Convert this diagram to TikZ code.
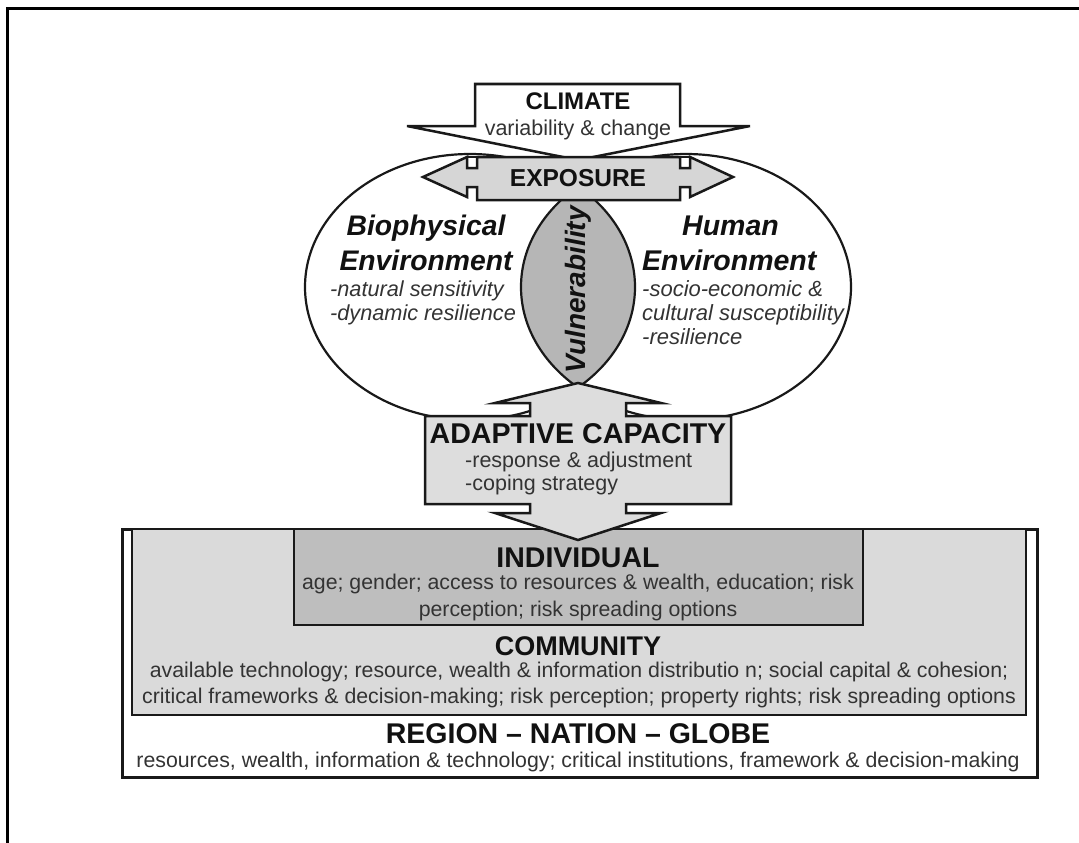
\documentclass[tikz,border=0pt]{standalone}
\usepackage{fontspec}
\setmainfont{Liberation Sans}
\newcommand{\fsz}[1]{\fontsize{#1}{#1}\selectfont}
\definecolor{txt}{HTML}{333333}
\definecolor{ttl}{HTML}{111111}
\definecolor{lensgray}{HTML}{B6B6B6}
\definecolor{expgray}{HTML}{D6D6D6}
\definecolor{adagray}{HTML}{DDDDDD}
\definecolor{comgray}{HTML}{DADADA}
\definecolor{indgray}{HTML}{BEBEBE}
\tikzset{
  outline/.style={draw=black!90, line width=2.5pt, line join=miter},
  lbl/.style={inner sep=0pt, anchor=base, text=txt},
  lbll/.style={inner sep=0pt, anchor=base west, text=txt},
  head/.style={inner sep=0pt, anchor=base, text=ttl, font=\bfseries},
}
\begin{document}
\begin{tikzpicture}[x=1pt,y=-1pt]
\useasboundingbox (0,0) rectangle (1079,843);
% frame (top and left only)
\draw[line width=3pt] (7,843) -- (7,9) -- (1079,9);

% ellipses and lens
\coordinate (lc) at (470,287);
\coordinate (rc) at (686,287);
\begin{scope}
  \clip (lc) ellipse [x radius=165pt, y radius=133pt];
  \fill[lensgray] (rc) ellipse [x radius=165pt, y radius=133pt];
\end{scope}
\draw[outline, line width=2.2pt] (lc) ellipse [x radius=165pt, y radius=133pt];
\draw[outline, line width=2.2pt] (rc) ellipse [x radius=165pt, y radius=133pt];

% bottom nested boxes
\draw[outline, fill=white, line width=3pt] (122,529) rectangle (1037,777);
\draw[outline, fill=comgray] (132,529) rectangle (1026,715);
\draw[outline, fill=indgray] (294,529) rectangle (863,625);

% adaptive capacity double arrow
\draw[outline, fill=adagray]
  (578,383) -- (661,403) -- (626,403) -- (626,416) -- (731,416) -- (731,504)
  -- (626,504) -- (626,513) -- (661,513) -- (578,540) -- (495,513) -- (530,513)
  -- (530,504) -- (425,504) -- (425,416) -- (530,416) -- (530,403) -- (495,403) -- cycle;

% climate arrow
\draw[outline, fill=white]
  (475,84) -- (680,84) -- (680,126) -- (750,126) -- (578,160) -- (407,126) -- (475,126) -- cycle;

% exposure double arrow
\draw[outline, fill=expgray]
  (477,157) -- (680,157) -- (680,168) -- (690,168) -- (690,157) -- (733,177) -- (690,197)
  -- (690,187) -- (680,187) -- (680,200) -- (477,200) -- (477,187) -- (467,187) -- (467,197)
  -- (423,177) -- (467,157) -- (467,168) -- (477,168) -- cycle;
\draw[outline] (467,157) -- (477,157);
\draw[outline] (680,157) -- (690,157);

% texts
\node[head, font=\bfseries\fsz{24}] (climate) at (578,110) {CLIMATE};
\node[lbl, font=\fsz{21.5}] (varchange) at (578,135) {variability \& change};
\node[head, font=\bfseries\fsz{24.5}] (exposure) at (578,186) {EXPOSURE};

\node[head, font=\bfseries\itshape\fsz{28.3}] (bio1) at (426,235) {Biophysical};
\node[head, font=\bfseries\itshape\fsz{28.3}] (bio2) at (426,270) {Environment};
\node[lbll, font=\itshape\fsz{21.7}] (bio3) at (330,296) {-natural sensitivity};
\node[lbll, font=\itshape\fsz{21.7}] (bio4) at (330,320) {-dynamic resilience};

\node[head, font=\bfseries\itshape\fsz{28.5}, anchor=base west] (hum1) at (682,235) {Human};
\node[head, font=\bfseries\itshape\fsz{28.5}, anchor=base west] (hum2) at (642,270) {Environment};
\node[lbll, font=\itshape\fsz{22}] (hum3) at (642,296) {-socio-economic \&};
\node[lbll, font=\itshape\fsz{22}] (hum4) at (642,320) {cultural susceptibility};
\node[lbll, font=\itshape\fsz{22}] (hum5) at (642,344) {-resilience};

\node[text=ttl, font=\bfseries\itshape\fsz{28}, rotate=90, inner sep=0pt] (vuln) at (578,290) {Vulnerability};

\node[head, font=\bfseries\fsz{28.6}] (adapt) at (578,443) {ADAPTIVE CAPACITY};
\node[lbll, font=\fsz{21.5}] (adapt1) at (465,467) {-response \& adjustment};
\node[lbll, font=\fsz{21.5}] (adapt2) at (465,490) {-coping strategy};

\node[head, font=\bfseries\fsz{28.5}] (indiv) at (578,567) {INDIVIDUAL};
\node[lbl, font=\fsz{21.3}] (indiv1) at (578,589) {age; gender; access to resources \& wealth, education; risk};
\node[lbl, font=\fsz{21.3}] (indiv2) at (578,616) {perception; risk spreading options};

\node[head, font=\bfseries\fsz{27}] (comm) at (578,655) {COMMUNITY};
\node[lbl, font=\fsz{21.3}] (comm1) at (579,677) {available technology; resource, wealth \& information distributio n; social capital \& cohesion;};
\node[lbl, font=\fsz{21.3}] (comm2) at (579,703) {critical frameworks \& decision-making; risk perception; property rights; risk spreading options};

\node[head, font=\bfseries\fsz{28.5}] (region) at (578,743) {REGION – NATION – GLOBE};
\node[lbl, font=\fsz{21.3}] (region1) at (578,767) {resources, wealth, information \& technology; critical institutions, framework \& decision-making};
\end{tikzpicture}
\end{document}
